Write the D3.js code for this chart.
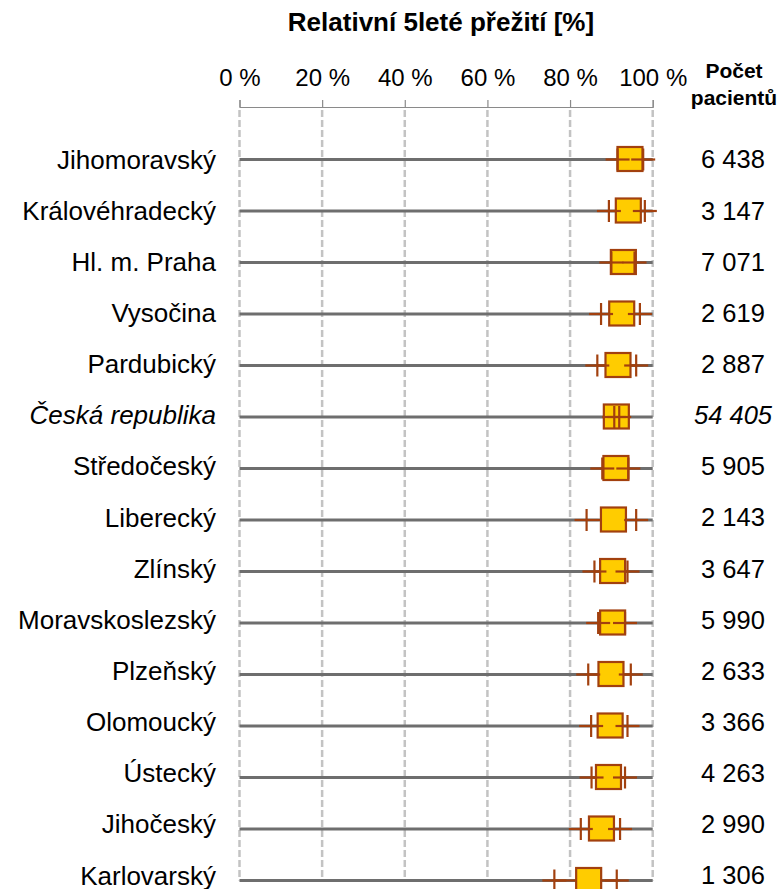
<!DOCTYPE html>
<html>
<head>
<meta charset="utf-8">
<script src="https://cdn.jsdelivr.net/npm/d3@7"></script>
<style>
  html, body { margin: 0; padding: 0; background: #fff; }
  svg { display: block; font-family: "Liberation Sans", Arial, sans-serif; }
</style>
</head>
<body>
<svg id="chart" width="778" height="889"></svg>
<script>
// Regions ordered by relative five-year survival
const regions = [
  "Jihomoravský", "Královéhradecký", "Hl. m. Praha", "Vysočina", "Pardubický",
  "Česká republika", "Středočeský", "Liberecký", "Zlínský", "Moravskoslezský",
  "Plzeňský", "Olomoucký", "Ústecký", "Jihočeský", "Karlovarský"
];
// Relative 5-year survival [%] with its confidence interval
const survival = [94.5, 94.1, 92.9, 92.5, 91.6, 91.2, 91.1, 90.5, 90.3, 90.3, 89.9, 89.7, 89.3, 87.6, 84.5];
const ciLow    = [91.5, 89.4, 90.0, 87.5, 86.6, 90.7, 87.8, 84.0, 85.9, 86.8, 84.4, 85.1, 85.2, 82.6, 76.2];
const ciHigh   = [97.7, 98.1, 95.6, 96.9, 96.0, 91.9, 94.1, 96.0, 93.9, 93.3, 94.7, 93.9, 93.3, 92.1, 91.3];
// Number of patients per region
const patients = [6438, 3147, 7071, 2619, 2887, 54405, 5905, 2143, 3647, 5990, 2633, 3366, 4263, 2990, 1306];
// Axis ticks [%]
const ticks = [0, 20, 40, 60, 80, 100];
// Rows set in italics (national total)
const italicRows = ["Česká republika"];

const rows = regions.map((r, i) => ({
  region: r, est: survival[i], lo: ciLow[i], hi: ciHigh[i], n: patients[i],
  italic: italicRows.includes(r)
}));

const svg = d3.select("#chart");
const x = d3.scaleLinear().domain([0, 100]).range([239.5, 652.7]);
// Plot rows and the text columns beside them use slightly different pitches
const y = d3.scalePoint().domain(regions).range([159.5, 880.5]);
const yText = d3.scalePoint().domain(regions).range([160, 876]);
const cz = d3.formatLocale({ decimal: ",", thousands: "\u00a0", grouping: [3] });
const fmtN = cz.format(",d");

const BROWN = "#a2400e";
const GOLD = "#ffcc00";

// Title
svg.append("text")
  .attr("x", 441).attr("y", 31)
  .attr("text-anchor", "middle")
  .attr("font-weight", "bold").attr("font-size", 26)
  .attr("fill", "#000")
  .text("Relativní 5leté přežití [%]");

// Column header for patient counts
const head = svg.append("text")
  .attr("text-anchor", "middle")
  .attr("font-weight", "bold").attr("font-size", 21)
  .attr("fill", "#000");
head.append("tspan").attr("x", 734).attr("y", 78).text("Počet");
head.append("tspan").attr("x", 734).attr("y", 105).text("pacientů");

// Dashed vertical gridlines
svg.append("g").selectAll("line").data(ticks).join("line")
  .attr("x1", d => x(d)).attr("x2", d => x(d))
  .attr("y1", 110).attr("y2", y(regions[regions.length - 1]))
  .attr("stroke", "#c3c3c3").attr("stroke-width", 2.5)
  .attr("stroke-dasharray", "7,3");

// Top axis
const axis = svg.append("g")
  .attr("transform", "translate(0,107)")
  .call(d3.axisTop(x).tickValues(ticks).tickSize(7).tickPadding(14)
    .tickFormat(d => d + " %"));
axis.select(".domain").attr("stroke", "#8a8a8a").attr("stroke-width", 1.2);
axis.selectAll(".tick line").attr("stroke", "#8a8a8a").attr("stroke-width", 1.2);
axis.selectAll(".tick text")
  .attr("font-size", 24).attr("fill", "#000")
  .attr("font-family", "Liberation Sans, Arial, sans-serif");

// One group per region
const g = svg.append("g").selectAll("g").data(rows).join("g")
  .attr("transform", d => `translate(0,${y(d.region)})`);

// Grey reference line across the full 0–100 % range
g.append("line")
  .attr("x1", x(0)).attr("x2", x(100))
  .attr("stroke", "#6e6e6e").attr("stroke-width", 3);

// Confidence interval line
g.append("line")
  .attr("x1", d => x(d.lo)).attr("x2", d => x(d.hi))
  .attr("stroke", BROWN).attr("stroke-width", 2.2);

// Square marker at the survival estimate
const S = 25;
g.append("rect")
  .attr("x", d => x(d.est) - S / 2).attr("y", -S / 2)
  .attr("width", S).attr("height", S - 1)
  .attr("fill", GOLD).attr("stroke", BROWN).attr("stroke-width", 2.2);

// Cross markers at the interval bounds
const arm = 12, half = 11;
const bounds = g.selectAll("g.bound")
  .data(d => [d.lo, d.hi]).join("g")
  .attr("class", "bound")
  .attr("transform", v => `translate(${x(v)},0)`);
bounds.append("line").attr("x1", -arm).attr("x2", arm)
  .attr("stroke", BROWN).attr("stroke-width", 2.2);
bounds.append("line").attr("y1", -half).attr("y2", half)
  .attr("stroke", BROWN).attr("stroke-width", 2.2);

// Region labels
svg.append("g").selectAll("text").data(rows).join("text")
  .attr("x", 216).attr("y", d => yText(d.region)).attr("dy", "0.33em")
  .attr("text-anchor", "end")
  .attr("font-size", 26)
  .attr("font-style", d => d.italic ? "italic" : "normal")
  .attr("fill", "#000")
  .text(d => d.region);

// Patient counts
svg.append("g").selectAll("text").data(rows).join("text")
  .attr("x", 733).attr("y", d => yText(d.region)).attr("dy", "0.33em")
  .attr("text-anchor", "middle")
  .attr("font-size", 25.5)
  .attr("font-style", d => d.italic ? "italic" : "normal")
  .attr("fill", "#000")
  .text(d => fmtN(d.n));
</script>
</body>
</html>
